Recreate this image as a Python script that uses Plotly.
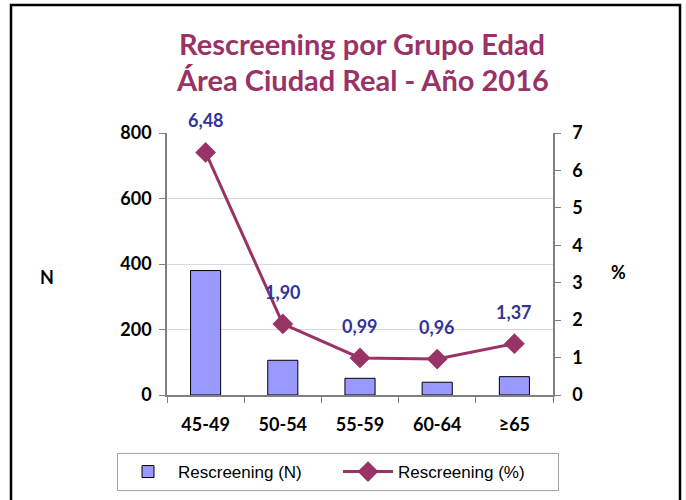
import plotly.graph_objects as go

categories = ["45-49", "50-54", "55-59", "60-64", "≥65"]
rescreening_n = [380, 106, 51, 39, 56]
rescreening_pct = [6.48, 1.90, 0.99, 0.96, 1.37]
pct_labels = ["6,48", "1,90", "0,99", "0,96", "1,37"]
left_ticks = [0, 200, 400, 600, 800]
right_ticks = [0, 1, 2, 3, 4, 5, 6, 7]

W, H = 686, 500
L, R, T, B = 167, 133, 133, 105
pw, ph = W - L - R, H - T - B

def px(x):
    return (x - L) / pw

def py(y):
    return (H - B - y) / ph

fig = go.Figure()
fig.add_trace(go.Bar(
    x=categories, y=rescreening_n, name="Rescreening (N)",
    marker=dict(color="#9999FF", line=dict(color="#000000", width=1)),
    width=0.39, yaxis="y",
))
fig.add_trace(go.Scatter(
    x=categories, y=rescreening_pct, name="Rescreening (%)",
    mode="lines+markers", yaxis="y2",
    line=dict(color="#993366", width=3),
    marker=dict(symbol="diamond", size=16, color="#993366"),
    cliponaxis=False,
))

annotations = []
for c, v, t in zip(categories, rescreening_pct, pct_labels):
    annotations.append(dict(
        x=c, y=v, xref="x", yref="y2", text="<b>%s</b>" % t, showarrow=False,
        xanchor="center", yanchor="middle", yshift=32,
        font=dict(family="Lato", size=18, color="#333399"),
    ))

tickfont = dict(family="Lato", size=18, color="#000000", weight="bold")
fig.update_layout(
    width=W, height=H,
    margin=dict(l=L, r=R, t=T, b=B, pad=0, autoexpand=False),
    paper_bgcolor="white", plot_bgcolor="white",
    showlegend=True,
    xaxis=dict(
        showline=True, linecolor="#808080", linewidth=1.5,
        ticks="outside", tickson="boundaries", ticklen=6, tickcolor="#808080",
        tickfont=tickfont, showgrid=False, range=[-0.5, 4.5],
        ticklabelstandoff=13,
    ),
    yaxis=dict(
        range=[0, 800], tickvals=left_ticks, showline=True,
        linecolor="#808080", linewidth=1.5, ticks="outside", ticklen=6,
        tickcolor="#808080", tickfont=tickfont, showgrid=True,
        gridcolor="#D9D9D9", gridwidth=1, zeroline=False,
        ticklabelstandoff=4,
    ),
    yaxis2=dict(
        range=[0, 7], tickvals=right_ticks, overlaying="y", side="right",
        showline=True, linecolor="#808080", linewidth=1.5, ticks="outside",
        ticklen=6, tickcolor="#808080", tickfont=tickfont, showgrid=False,
        zeroline=False, ticklabelstandoff=8,
    ),
    legend=dict(
        orientation="h", x=px(117), y=py(453), xanchor="left", yanchor="top",
        bgcolor="white", bordercolor="#A6A6A6", borderwidth=1,
        font=dict(family="Liberation Sans", size=17, color="#000000"),
        entrywidth=155, itemwidth=50,
    ),
    annotations=annotations + [
        dict(text="<b>Rescreening por Grupo Edad</b>", x=px(362), y=py(44),
             xref="paper", yref="paper", showarrow=False,
             xanchor="center", yanchor="middle",
             font=dict(family="Lato", size=29, color="#993366")),
        dict(text="<b>Área Ciudad Real - Año 2016</b>", x=px(362), y=py(80),
             xref="paper", yref="paper", showarrow=False,
             xanchor="center", yanchor="middle",
             font=dict(family="Lato", size=29, color="#993366")),
        dict(text="<b>N</b>", x=px(47), y=py(277), xref="paper", yref="paper",
             showarrow=False, xanchor="center", yanchor="middle",
             font=dict(family="Lato", size=18, color="#000000")),
        dict(text="<b>%</b>", x=px(618), y=py(272), xref="paper", yref="paper",
             showarrow=False, xanchor="center", yanchor="middle",
             font=dict(family="Lato", size=18, color="#000000")),
    ],
    shapes=[
        dict(type="rect", xref="paper", yref="paper",
             x0=px(11), x1=px(680), y0=py(504), y1=py(5),
             line=dict(color="#000000", width=2.5), fillcolor="rgba(0,0,0,0)",
             layer="below"),
    ],
)

fig.write_html("out.html", config={"displayModeBar": False},
               post_script="document.body.style.margin='0px';")
